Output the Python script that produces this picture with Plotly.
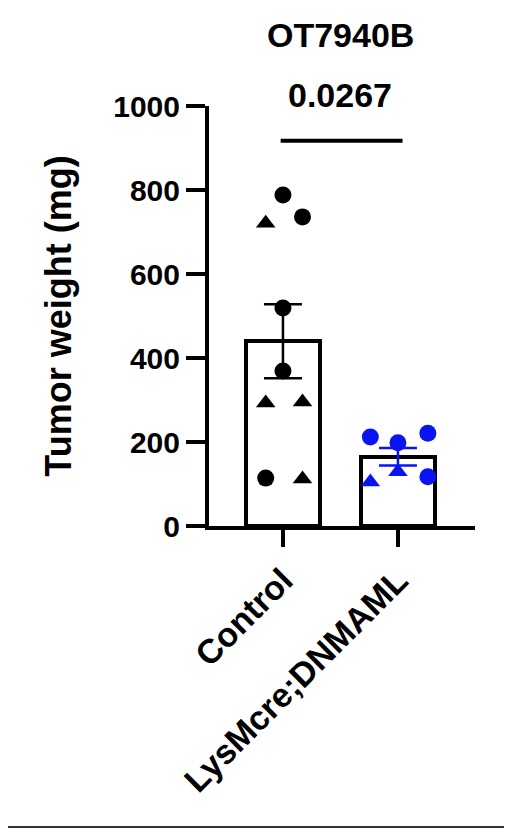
import plotly.graph_objects as go

categories = ["Control", "LysMcre;DNMAML"]
control_vals = [788, 736, 721, 519, 369, 293, 295, 114, 112]
control_syms = ["circle", "circle", "triangle-up", "circle", "circle", "triangle-up", "triangle-up", "circle", "triangle-up"]
control_jit = [0.0, 0.17, -0.15, 0.0, 0.0, -0.15, 0.17, -0.15, 0.17]
lys_vals = [212, 198, 221, 105, 129, 117]
lys_syms = ["circle", "circle", "circle", "triangle-up", "triangle-up", "circle"]
lys_jit = [-0.24, 0.0, 0.26, -0.24, 0.0, 0.26]
means = [440, 165]
sems = [88, 21]
p_text = "0.0267"
title = "OT7940B"
y_ticks = [0, 200, 400, 600, 800, 1000]

FONT = "Liberation Sans, Arial, sans-serif"
BLUE = "#0a14f0"

fig = go.Figure()
fig.add_trace(go.Bar(x=[0, 1], y=means, width=0.65,
                     marker=dict(color="white", line=dict(color="black", width=4)),
                     showlegend=False, hoverinfo="skip"))
fig.add_trace(go.Scatter(x=[0 + j for j in control_jit], y=control_vals, mode="markers",
                         marker=dict(symbol=control_syms, size=17, color="black",
                                     line=dict(width=0)), showlegend=False))
fig.add_trace(go.Scatter(x=[1 + j for j in lys_jit], y=lys_vals, mode="markers",
                         marker=dict(symbol=lys_syms, size=17, color=BLUE,
                                     line=dict(width=0)), showlegend=False))
for i, c in enumerate(["black", BLUE]):
    fig.add_trace(go.Scatter(x=[i], y=[means[i]], mode="markers",
                             marker=dict(size=1, color="rgba(0,0,0,0)"),
                             error_y=dict(type="data", array=[sems[i]], color=c,
                                          thickness=2.5, width=19),
                             showlegend=False))

fig.add_shape(type="line", x0=-0.02, x1=1.04, y0=917, y1=917, xref="x", yref="y",
              line=dict(color="black", width=4))
fig.add_annotation(x=0.5, y=1.027, xref="x", yref="paper", yanchor="middle",
                   text="<b>" + p_text + "</b>",
                   showarrow=False, font=dict(family=FONT, size=34, color="black"))
fig.add_annotation(x=0.5, y=1.169, xref="x", yref="paper", yanchor="middle",
                   text="<b>" + title + "</b>",
                   showarrow=False, font=dict(family=FONT, size=34, color="black"))
fig.add_shape(type="line", xref="paper", yref="paper", x0=-1, x1=2, y0=-0.7167, y1=-0.7167,
              line=dict(color="#333333", width=2))

fig.update_layout(
    width=512, height=828, margin=dict(l=201, r=45, t=98, b=310),
    paper_bgcolor="white", plot_bgcolor="white",
    font=dict(family=FONT, color="black"),
    bargap=0,
)
fig.update_xaxes(range=[-0.643, 1.67], tickvals=[0, 1],
                 ticktext=["<b>" + c + "</b>" for c in categories],
                 tickangle=-45, tickfont=dict(family=FONT, size=34, color="black"),
                 showline=True, linecolor="black", linewidth=4, ticks="outside",
                 ticklen=17, tickwidth=4, tickcolor="black", showgrid=False, zeroline=False)
fig.update_yaxes(range=[0, 1000], tickvals=y_ticks,
                 ticktext=["<b>%d</b>" % v for v in y_ticks],
                 tickfont=dict(family=FONT, size=30, color="black"),
                 title=dict(text="<b>Tumor weight (mg)</b>", font=dict(family=FONT, size=36, color="black"),
                            standoff=32),
                 showline=True, linecolor="black", linewidth=4, ticks="outside",
                 ticklen=19, tickwidth=4, tickcolor="black", showgrid=False, zeroline=False)

fig.write_html("out.html")
